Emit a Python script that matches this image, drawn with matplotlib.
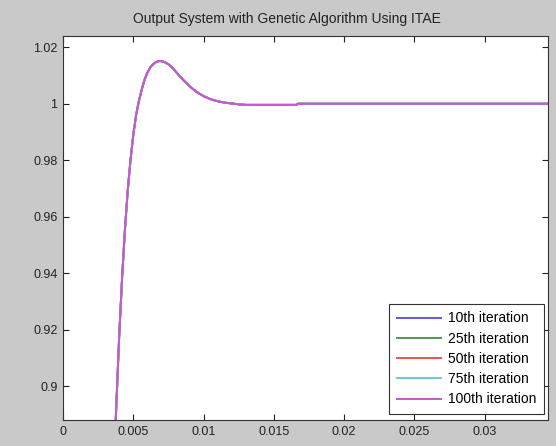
import matplotlib
matplotlib.use("Agg")
import matplotlib.pyplot as plt

# Step response of the GA-tuned system (time in seconds)
time_s = [0.0036, 0.00375, 0.0040, 0.0042, 0.0044, 0.0046, 0.0048, 0.0050,
          0.0052, 0.0054, 0.0056, 0.0058, 0.0060, 0.0062, 0.0064, 0.0066,
          0.0068, 0.0070, 0.0072, 0.0075, 0.0078, 0.0082, 0.0086, 0.0090,
          0.0095, 0.0100, 0.0105, 0.0110, 0.0115, 0.0120, 0.0125, 0.0130,
          0.0166, 0.0167, 0.0345]
response = [0.870, 0.888, 0.918, 0.938, 0.955, 0.969, 0.980, 0.989,
            0.996, 1.001, 1.005, 1.0085, 1.011, 1.0128, 1.014, 1.0147,
            1.0151, 1.0151, 1.0148, 1.0140, 1.0126, 1.0104, 1.0082, 1.0062,
            1.0042, 1.0027, 1.0016, 1.0009, 1.0004, 1.0001, 0.9998, 0.9996,
            0.9996, 1.0000, 1.0000]

# Every iteration converged to the same response
iterations = ["10th iteration", "25th iteration", "50th iteration",
              "75th iteration", "100th iteration"]
iteration_colors = ["#5a5ae6", "#4f9a4f", "#e65454", "#66cccc", "#cc55d0"]

x_ticks = [0, 0.005, 0.01, 0.015, 0.02, 0.025, 0.03]
x_tick_labels = ["0", "0.005", "0.01", "0.015", "0.02", "0.025", "0.03"]
y_ticks = [0.9, 0.92, 0.94, 0.96, 0.98, 1.0, 1.02]
y_tick_labels = ["0.9", "0.92", "0.94", "0.96", "0.98", "1", "1.02"]

plt.rcParams["font.family"] = ["Liberation Sans", "DejaVu Sans"]

fig = plt.figure(figsize=(5.56, 4.46), dpi=100, facecolor="#c9c9c9")
ax = fig.add_axes([0.1133, 0.0583, 0.8723, 0.861])
ax.set_facecolor("white")

for label, color in zip(iterations, iteration_colors):
    ax.plot(time_s, response, color=color, lw=1.4, label=label)

ax.set_xlim(0, 0.0345)
ax.set_ylim(0.888, 1.024)
ax.set_xticks(x_ticks)
ax.set_xticklabels(x_tick_labels)
ax.set_yticks(y_ticks)
ax.set_yticklabels(y_tick_labels)
ax.tick_params(direction="in", top=True, right=True, length=4, width=0.8,
               labelsize=9, colors="#222222", pad=4)
for side in ax.spines.values():
    side.set_color("#333333")
    side.set_linewidth(0.8)

ax.set_title("Output System with Genetic Algorithm Using ITAE",
             fontsize=10, color="#222222", pad=9, x=0.462)

leg = ax.legend(loc="lower right", bbox_to_anchor=(0.9918, 0.0156),
                fontsize=10, frameon=True, fancybox=False,
                edgecolor="#333333", framealpha=1, handlelength=3.2,
                handletextpad=0.5, labelspacing=0.45, borderpad=0.55,
                borderaxespad=0.0)
leg.get_frame().set_linewidth(0.8)

fig.savefig("out.png", dpi=100, facecolor=fig.get_facecolor())
